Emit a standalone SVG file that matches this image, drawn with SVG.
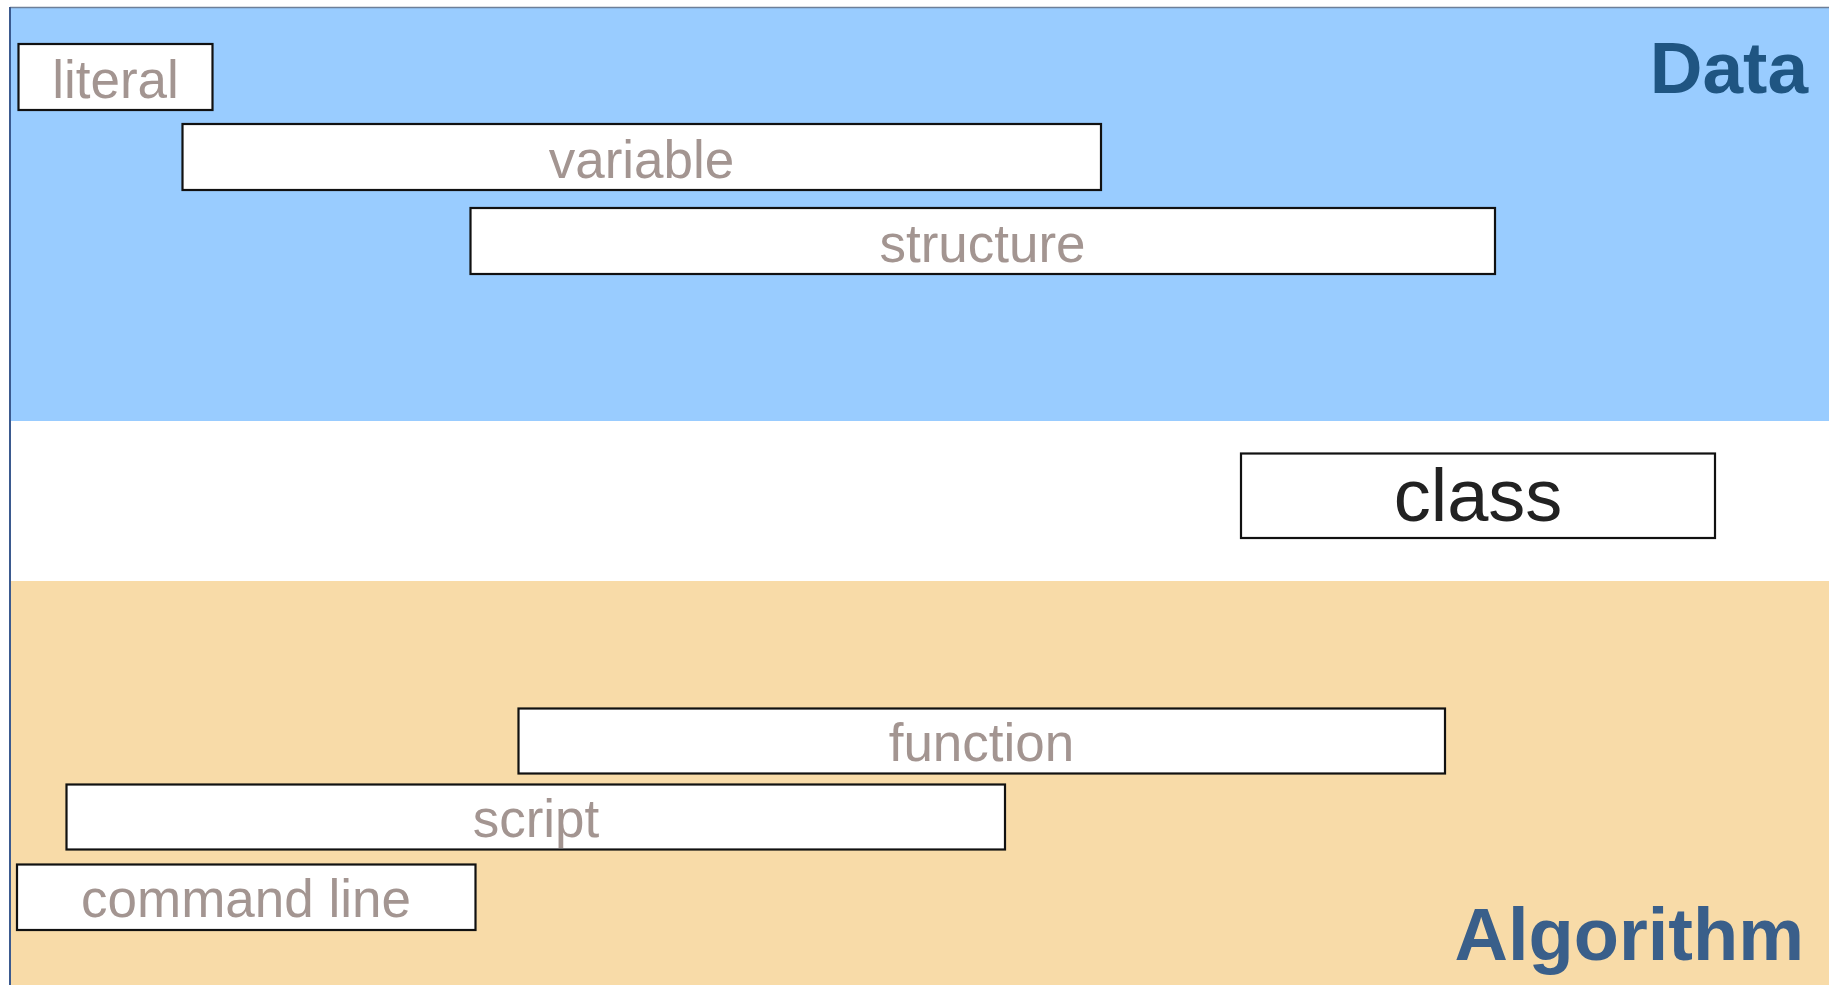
<svg xmlns="http://www.w3.org/2000/svg" width="1829" height="985" viewBox="0 0 1829 985">
  <style>
    .box { fill: #ffffff; stroke: #111111; stroke-width: 2.2; }
    .lbl { font-family: "Liberation Sans", Arial, sans-serif; font-size: 53px; fill: #a39591; text-anchor: middle; }
    .title { font-family: "Liberation Sans", Arial, sans-serif; font-weight: bold; text-anchor: end; }
  </style>

  <!-- background bands -->
  <rect x="0" y="0" width="1829" height="985" fill="#ffffff"/>
  <rect x="10" y="8" width="1819" height="413" fill="#99ccff"/>
  <rect x="10" y="421" width="1819" height="160" fill="#ffffff"/>
  <rect x="10" y="581" width="1819" height="404" fill="#f8dba8"/>
  <line x1="10" y1="7.5" x2="1829" y2="7.5" stroke="#6d7f99" stroke-width="1.5"/>
  <line x1="10" y1="7" x2="10" y2="985" stroke="#3b5a8f" stroke-width="2"/>

  <text class="title" x="1808" y="93" font-size="73" fill="#1f5582">Data</text>
  <text class="title" x="1804" y="960" font-size="74" fill="#3a5f8a">Algorithm</text>

  <g id="literal">
    <rect class="box" x="18.5" y="44" width="194" height="66"/>
    <text class="lbl" x="115.5" y="98">literal</text>
  </g>
  <g id="variable">
    <rect class="box" x="182.5" y="124" width="918.5" height="66"/>
    <text class="lbl" x="641.5" y="177.5">variable</text>
  </g>
  <g id="structure">
    <rect class="box" x="470.5" y="208" width="1024.5" height="66"/>
    <text class="lbl" x="982.5" y="261.5">structure</text>
  </g>
  <g id="class">
    <rect class="box" x="1241" y="453.5" width="474" height="84.5"/>
    <text x="1478" y="521" font-family="Liberation Sans, Arial, sans-serif" font-size="74" fill="#222222" text-anchor="middle">class</text>
  </g>
  <g id="function">
    <rect class="box" x="518.5" y="708.5" width="926.5" height="65"/>
    <text class="lbl" x="981.5" y="761">function</text>
  </g>
  <g id="script">
    <rect class="box" x="66.5" y="784.5" width="938.5" height="65"/>
    <text class="lbl" x="536" y="837">script</text>
  </g>
  <g id="command-line">
    <rect class="box" x="17" y="864.5" width="458.5" height="65.5"/>
    <text class="lbl" x="246" y="917">command line</text>
  </g>

  <g id="connectors"></g>
</svg>
